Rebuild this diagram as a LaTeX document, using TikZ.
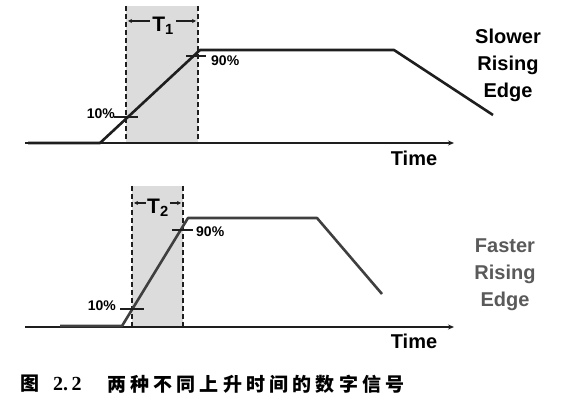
\documentclass[tikz,border=0pt]{standalone}
\usepackage{fontspec}
\setmainfont{Liberation Sans}
\newfontfamily\cjk{Noto Sans CJK SC}
\newfontfamily\serifb{Liberation Serif}
\usetikzlibrary{arrows.meta}
\definecolor{shadegray}{HTML}{DCDCDC}
\definecolor{inkdark}{HTML}{1E1E1E}
\definecolor{labgray}{HTML}{5A5A5A}
\newcommand{\cg}{\hspace{4.2pt}}
\begin{document}
\begin{tikzpicture}[x=1pt,y=-1pt,
  sig/.style={line width=2.6pt, draw=inkdark, line join=round},
  axis/.style={line width=1.8pt, draw=inkdark, -{Stealth[length=6pt,width=5pt]}},
  guide/.style={line width=1.5pt, draw=inkdark, dash pattern=on 5pt off 3pt},
  band/.style={fill=shadegray},
  tick/.style={line width=1.4pt, draw=inkdark},
  pct/.style={font=\bfseries\fontsize{14}{14}\selectfont, inner sep=0pt},
  big/.style={font=\bfseries\fontsize{20}{27}\selectfont, inner sep=0pt, align=center},
  tlab/.style={font=\bfseries\fontsize{21}{21}\selectfont, inner sep=0pt},
  tarr/.style={line width=1.2pt, draw=inkdark, -{Stealth[length=4pt,width=4pt]}}
]
\useasboundingbox (0,0) rectangle (581,419);
\fill[white] (0,0) rectangle (581,419);

% ---------- top panel ----------
\coordinate (ga1) at (126,6);  \coordinate (gb1) at (126,143);
\coordinate (gc1) at (198,6);  \coordinate (gd1) at (198,143);
\fill[band] (ga1) rectangle (gd1);
\draw[guide] (ga1) -- (gb1);
\draw[guide] (gc1) -- (gd1);
\coordinate (ax1s) at (25,143); \coordinate (ax1e) at (454,143);
\draw[axis] (ax1s) -- (ax1e);
\coordinate (s1a) at (28,143); \coordinate (s1b) at (100,143);
\coordinate (s1c) at (200,50); \coordinate (s1d) at (394,50);
\coordinate (s1e) at (493,115);
\draw[sig] (s1a) -- (s1b) -- (s1c) -- (s1d) -- (s1e);
\node[tlab] (t1) at (163,26) {T\textsubscript{1}};
\coordinate (t1l) at (128,21); \coordinate (t1r) at (196,21);
\draw[tarr] (t1.west |- t1l) ++(-2,0) coordinate (t1ls) -- (t1l);
\draw[tarr] (t1.east |- t1r) ++(2,0) coordinate (t1rs) -- (t1r);
\coordinate (k1a) at (114,117); \coordinate (k1b) at (138,117);
\draw[tick] (k1a) -- (k1b);
\node[pct, anchor=east] (p10a) at (115,114) {10\%};
\coordinate (k9a) at (186,56); \coordinate (k9b) at (206,56);
\draw[tick] (k9a) -- (k9b);
\node[pct, anchor=west] (p90a) at (211,61) {90\%};
\node[big] (slow) at (508,65) {Slower\\Rising\\Edge};
\node[big] (time1) at (414,158) {Time};

% ---------- bottom panel ----------
\coordinate (ga2) at (132,186); \coordinate (gb2) at (132,327);
\coordinate (gc2) at (183,186); \coordinate (gd2) at (183,327);
\fill[band] (ga2) rectangle (gd2);
\draw[guide] (ga2) -- (gb2);
\draw[guide] (gc2) -- (gd2);
\coordinate (ax2s) at (25,327); \coordinate (ax2e) at (454,327);
\draw[axis] (ax2s) -- (ax2e);
\coordinate (s2a) at (60,326); \coordinate (s2b) at (122,326);
\coordinate (s2c) at (188,218); \coordinate (s2d) at (317,218);
\coordinate (s2e) at (382,294);
\draw[sig, draw=labgray!70!black] (s2a) -- (s2b) -- (s2c) -- (s2d) -- (s2e);
\node[tlab] (t2) at (158,208) {T\textsubscript{2}};
\coordinate (t2l) at (134,203); \coordinate (t2r) at (181,203);
\draw[tarr] (t2.west |- t2l) ++(-1,0) coordinate (t2ls) -- (t2l);
\draw[tarr] (t2.east |- t2r) ++(1,0) coordinate (t2rs) -- (t2r);
\coordinate (k1c) at (120,309); \coordinate (k1d) at (144,309);
\draw[tick] (k1c) -- (k1d);
\node[pct, anchor=east] (p10b) at (116,306) {10\%};
\coordinate (k9c) at (172,230); \coordinate (k9d) at (193,230);
\draw[tick] (k9c) -- (k9d);
\node[pct, anchor=west] (p90b) at (196,232) {90\%};
\node[big, text=labgray] (fast) at (505,275) {Faster\\Rising\\Edge};
\node[big] (time2) at (414,341) {Time};

% ---------- caption ----------
\node[inner sep=0pt, anchor=west, font=\cjk\bfseries\fontsize{19}{19}\selectfont] (capfig) at (20,384) {图};
\node[inner sep=0pt, anchor=west, font=\serifb\bfseries\fontsize{20}{20}\selectfont] (capnum) at (53,384) {2.\,2};
\node[inner sep=0pt, anchor=west, font=\cjk\bfseries\fontsize{19}{19}\selectfont] (captext) at (107,384) {两\cg 种\cg 不\cg 同\cg 上\cg 升\cg 时\cg 间\cg 的\cg 数\cg 字\cg 信\cg 号};
\end{tikzpicture}
\end{document}
